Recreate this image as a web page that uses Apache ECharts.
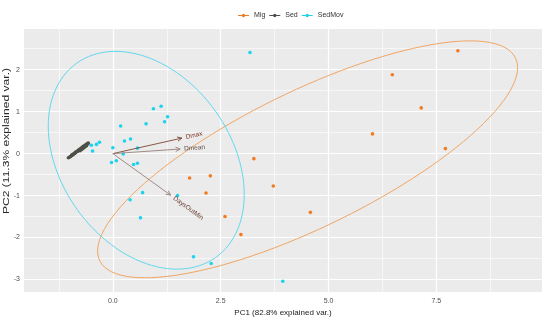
<!DOCTYPE html>
<html><head><meta charset="utf-8">
<script src="https://cdn.jsdelivr.net/npm/echarts@6/dist/echarts.min.js"></script>
<style>html,body{margin:0;padding:0;background:#fff}#c{width:550px;height:322px}</style>
</head><body><div id="c"></div><script>
// ---- data ----
const groupNames = ['Mig', 'Sed', 'SedMov'];
const migX = [8.00, 6.48, 7.15, 6.02, 7.71, 3.27, 1.78, 2.26, 2.16, 3.72, 2.60, 4.58, 2.97];
const migY = [2.45, 1.88, 1.09, 0.47, 0.12, -0.12, -0.58, -0.53, -0.94, -0.77, -1.50, -1.40, -1.93];
const sedX = [-1.03, -1.00, -0.98, -0.96, -0.95, -0.93, -0.91, -0.90, -0.88, -0.87, -0.85, -0.83, -0.82, -0.80, -0.79, -0.77, -0.76, -0.74, -0.73, -0.71, -0.70, -0.68, -0.67, -0.65, -0.63, -0.62, -0.60, -0.58, -0.57, -0.76, -0.72, -0.69, -0.66, -0.64, -0.61];
const sedY = [-0.10, -0.08, -0.07, -0.05, -0.03, -0.03, -0.01, 0.00, 0.01, 0.03, 0.04, 0.05, 0.06, 0.07, 0.09, 0.09, 0.11, 0.12, 0.13, 0.14, 0.16, 0.16, 0.18, 0.19, 0.20, 0.22, 0.22, 0.24, 0.25, 0.07, 0.10, 0.13, 0.15, 0.17, 0.19];
const sedMovX = [3.18, 0.94, 1.12, 1.27, 1.20, 0.77, 0.18, 0.27, 0.41, -0.31, -0.38, -0.50, -0.47, 0.00, 0.57, 0.24, -0.03, 0.08, 0.48, 0.57, 0.69, 0.40, 0.64, 1.50, 1.87, 2.28, 3.94];
const sedMovY = [2.41, 1.07, 1.13, 0.88, 0.76, 0.71, 0.66, 0.30, 0.35, 0.27, 0.22, 0.20, 0.06, 0.14, 0.13, -0.01, -0.21, -0.17, -0.26, -0.23, -0.93, -1.10, -1.53, -1.00, -2.46, -2.62, -3.04];
const varNames = ['Dmax', 'Dmean', 'DaysOutMin'];
const varX = [1.60, 1.56, 1.34];
const varY = [0.37, 0.11, -0.99];
const xTicks = [0, 2.5, 5, 7.5];
const xMinor = [-1.25, 1.25, 3.75, 6.25, 8.75];
const yTicks = [-3, -2, -1, 0, 1, 2];
const yMinor = [-2.5, -1.5, -0.5, 0.5, 1.5, 2.5];
const xTitle = 'PC1 (82.8% explained var.)';
const yTitle = 'PC2 (11.3% explained var.)';
const ellipseProb = 0.9;

// ---- styling ----
const XMIN = -2.06, XMAX = 9.95, YMIN = -3.30, YMAX = 2.97;
const pointColors = ['#F27A1F', '#4F4F48', '#1CD3EE'];
const ellColors = ['#F0A664', '#58584F', '#62D8EE'];
const arrowColors = ['#7A4636', '#968078', '#968078'];
const labelColors = ['#7E3A2A', '#5E4E48', '#6E3E32'];
const FONT = '"Liberation Sans", Arial, sans-serif';

function pairs(xs, ys) { return xs.map((x, i) => [x, ys[i]]); }
function ellipse(xs, ys) {
  const n = xs.length;
  const mx = xs.reduce((a, b) => a + b, 0) / n, my = ys.reduce((a, b) => a + b, 0) / n;
  let sxx = 0, syy = 0, sxy = 0;
  for (let i = 0; i < n; i++) { const dx = xs[i] - mx, dy = ys[i] - my; sxx += dx * dx; syy += dy * dy; sxy += dx * dy; }
  sxx /= (n - 1); syy /= (n - 1); sxy /= (n - 1);
  const r11 = Math.sqrt(sxx), r12 = sxy / r11, r22 = Math.sqrt(Math.max(syy - r12 * r12, 0));
  const ed = Math.sqrt(-2 * Math.log(1 - ellipseProb));
  const pts = [];
  for (let i = 0; i <= 120; i++) {
    const t = -Math.PI + 2 * Math.PI * i / 120, c = Math.cos(t), s = Math.sin(t);
    pts.push([mx + ed * c * r11, my + ed * (c * r12 + s * r22)]);
  }
  return pts;
}
const groupsX = [migX, sedX, sedMovX], groupsY = [migY, sedY, sedMovY];

const minorStyle = { color: '#FFFFFF', width: 0.6, type: 'solid', opacity: 1 };
const majorStyle = { color: '#FFFFFF', width: 1.2, type: 'solid', opacity: 1 };
const gridLines = []
  .concat(xMinor.map(v => ({ xAxis: v, lineStyle: minorStyle })))
  .concat(yMinor.map(v => ({ yAxis: v, lineStyle: minorStyle })))
  .concat(xTicks.map(v => ({ xAxis: v, lineStyle: majorStyle })))
  .concat(yTicks.map(v => ({ yAxis: v, lineStyle: majorStyle })));

const legendIcon = 'path://M0,4.5L12,4.5L12,5.5L0,5.5Z M6,3.2A1.8,1.8,0,1,1,5.99,3.2Z';

const series = [];
series.push({
  type: 'scatter', z: 1, silent: true, data: [], symbolSize: 0,
  markLine: { z: 1, silent: true, symbol: ['none', 'none'], label: { show: false }, animation: false,
    emphasis: { disabled: true }, data: gridLines }
});
groupNames.forEach((g, i) => {
  series.push({
    name: g, type: 'line', z: 2, silent: true, showSymbol: false, smooth: false,
    data: ellipse(groupsX[i], groupsY[i]),
    lineStyle: { color: ellColors[i], width: 1 }, itemStyle: { color: pointColors[i] }
  });
});
groupNames.forEach((g, i) => {
  series.push({
    name: g, type: 'scatter', z: 3, silent: true, symbolSize: 3.6,
    data: pairs(groupsX[i], groupsY[i]),
    itemStyle: { color: pointColors[i], opacity: 1 }
  });
});
series.push({
  type: 'custom', z: 4, silent: true,
  data: varNames.map((n, i) => [varX[i], varY[i]]),
  renderItem: (params, api) => {
    const i = params.dataIndex;
    const o = api.coord([0, 0]), t = api.coord([varX[i], varY[i]]);
    const ang = Math.atan2(t[1] - o[1], t[0] - o[0]);
    const hl = 5, ha = Math.PI / 7;
    const h1 = [t[0] - hl * Math.cos(ang - ha), t[1] - hl * Math.sin(ang - ha)];
    const h2 = [t[0] - hl * Math.cos(ang + ha), t[1] - hl * Math.sin(ang + ha)];
    const dataAng = Math.atan(varY[i] / varX[i]);
    const lx = t[0] + 4 * Math.cos(ang), ly = t[1] + 4 * Math.sin(ang);
    return { type: 'group', children: [
      { type: 'line', shape: { x1: o[0], y1: o[1], x2: t[0], y2: t[1] }, style: { stroke: arrowColors[i], lineWidth: 0.9 } },
      { type: 'polyline', shape: { points: [h1, t, h2] }, style: { stroke: arrowColors[i], lineWidth: 0.9, fill: null } },
      { type: 'text', x: lx, y: ly, rotation: dataAng,
        style: { text: varNames[i], x: 0, y: 0, align: 'left', verticalAlign: 'middle', fill: labelColors[i],
          font: '6.5px ' + FONT } }
    ] };
  }
});

const axisCommon = {
  axisLine: { show: false },
  splitLine: { show: false },
  axisTick: { show: true, inside: false, length: 3, lineStyle: { color: '#333333', width: 0.8 } },
  axisLabel: { color: '#4D4D4D', fontSize: 7, fontFamily: FONT }
};

const chart = echarts.init(document.getElementById('c'), null, { renderer: 'canvas' });
chart.setOption({
  animation: false,
  backgroundColor: '#FFFFFF',
  grid: { left: 24, right: 8, top: 29, bottom: 24, containLabel: false, show: true, backgroundColor: '#EBEBEB', borderWidth: 0 },
  legend: {
    top: 7, left: 233, itemWidth: 11, itemHeight: 10, itemGap: 4,
    textStyle: { color: '#333333', fontSize: 7, fontFamily: FONT },
    data: groupNames.map((g, i) => ({ name: g, icon: legendIcon, itemStyle: { color: pointColors[i] } })),
    selectedMode: false
  },
  xAxis: Object.assign({}, axisCommon, {
    type: 'value', min: XMIN, max: XMAX,
    axisTick: Object.assign({}, axisCommon.axisTick, { customValues: xTicks }),
    axisLabel: Object.assign({}, axisCommon.axisLabel, { customValues: xTicks, margin: 5, formatter: v => v.toFixed(1) }),
    name: xTitle, nameLocation: 'middle', nameGap: 13,
    nameTextStyle: { color: '#1A1A1A', fontSize: 8, fontFamily: FONT }
  }),
  yAxis: Object.assign({}, axisCommon, {
    type: 'value', min: YMIN, max: YMAX,
    axisTick: Object.assign({}, axisCommon.axisTick, { customValues: yTicks }),
    axisLabel: Object.assign({}, axisCommon.axisLabel, { customValues: yTicks, margin: 4, formatter: v => String(v) })
  }),
  graphic: [{
    type: 'text', x: 7, y: 141, rotation: Math.PI / 2, scaleX: 1.42,
    style: { text: yTitle, align: 'center', verticalAlign: 'middle', fill: '#262626', font: '8.5px ' + FONT }
  }],
  series: series
});
</script></body></html>
